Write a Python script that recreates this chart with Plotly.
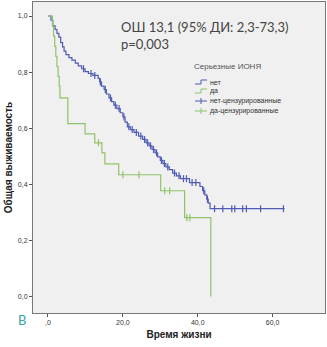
import plotly.graph_objects as go
import numpy as np

# Blue group "нет": step function (time, survival)
no_time = [0, 0.8, 1.3, 1.9, 2.4, 2.9, 3.4, 3.9, 4.3, 4.8,
           5.6, 6.4, 7.3, 8.1, 9.0, 9.9, 10.8, 12.0, 13.4, 13.8,
           14.3, 15.0, 15.6, 16.3, 17.0, 17.6, 18.4, 19.3, 20.0, 20.6,
           21.2, 22.0, 23.0, 24.2, 25.3, 26.2, 27.0, 27.8, 28.6, 29.3,
           30.0, 30.7, 31.5, 32.4, 33.3, 34.3, 35.4, 37.8, 40.6, 41.3,
           41.9, 42.4, 42.8, 43.3, 63.2]
no_surv = [1.0, 0.985, 0.965, 0.952, 0.938, 0.925, 0.905, 0.89, 0.875, 0.862,
           0.852, 0.843, 0.832, 0.822, 0.812, 0.802, 0.795, 0.788, 0.778, 0.765,
           0.750, 0.738, 0.722, 0.708, 0.695, 0.682, 0.670, 0.655, 0.640, 0.622,
           0.605, 0.595, 0.585, 0.572, 0.560, 0.548, 0.537, 0.524, 0.512, 0.498,
           0.485, 0.474, 0.462, 0.452, 0.440, 0.430, 0.420, 0.406, 0.392, 0.377,
           0.362, 0.347, 0.333, 0.313, 0.313]
no_censor = [9.5, 11.5, 12.5, 14.0, 15.3, 16.7, 18.0, 19.0, 20.3, 21.6,
             22.5, 23.6, 24.8, 25.8, 26.6, 27.4, 28.2, 29.0, 30.3, 31.1,
             32.0, 33.8, 35.0, 36.2, 37.0, 38.5, 39.5, 41.6, 42.6, 44.5,
             46.7, 49.1, 49.9, 52.0, 53.0, 56.8, 62.9]

# Green group "да"
yes_time = [0, 1.2, 1.5, 1.8, 2.1, 2.4, 2.7, 3.0, 3.2, 5.3, 9.9, 12.5,
            14.4, 15.2, 18.9, 30.1, 36.5, 43.5]
yes_surv = [1.0, 0.964, 0.928, 0.892, 0.856, 0.82, 0.785, 0.75, 0.708, 0.616,
            0.58, 0.548, 0.512, 0.473, 0.434, 0.377, 0.281, 0.0]
yes_censor = [13.5, 20.0, 24.3, 31.2, 32.5, 37.1, 37.9]

x_ticks = [0, 20, 40, 60]
x_labels = [",0", "20,0", "40,0", "60,0"]
y_ticks = [0, 0.2, 0.4, 0.6, 0.8, 1.0]
y_labels = ["0,0", "0,2", "0,4", "0,6", "0,8", "1,0"]

legend_title = "Серьезные ИОНЯ"
legend_names = ["нет", "да", "нет-цензурированные", "да-цензурированные"]

BLUE = "#4f5bb5"
GREEN = "#8fc36a"

W, H = 327, 347
ML, MR, MT, MB = 33, 2, 2, 34
PW, PH = W - ML - MR, H - MT - MB


def px(x):
    return (x - ML) / PW


def py(y):
    return (H - MB - y) / PH


def step_at(times, surv, t):
    idx = np.searchsorted(np.array(times), t, side="right") - 1
    return [surv[i] for i in idx]


fig = go.Figure()
fig.add_trace(go.Scatter(x=no_time, y=no_surv, mode="lines", line_shape="hv",
                         line=dict(color=BLUE, width=1.2), name=legend_names[0]))
fig.add_trace(go.Scatter(x=yes_time, y=yes_surv, mode="lines", line_shape="hv",
                         line=dict(color=GREEN, width=1.2), name=legend_names[1]))
fig.add_trace(go.Scatter(x=no_censor, y=step_at(no_time, no_surv, no_censor),
                         mode="markers", name=legend_names[2],
                         marker=dict(symbol="line-ns", size=5, line=dict(color=BLUE, width=1.2))))
fig.add_trace(go.Scatter(x=yes_censor, y=step_at(yes_time, yes_surv, yes_censor),
                         mode="markers", name=legend_names[3],
                         marker=dict(symbol="line-ns", size=5, line=dict(color=GREEN, width=1.2))))

axis_common = dict(showgrid=False, zeroline=False, showline=True, linecolor="#777",
                   linewidth=1, mirror=True, ticks="outside", ticklen=3, tickcolor="#555",
                   automargin=False,
                   tickfont=dict(family="Liberation Sans", size=7, color="#333"))

fig.update_layout(
    width=W, height=H,
    margin=dict(l=ML, r=MR, t=MT, b=MB),
    paper_bgcolor="white", plot_bgcolor="#f0f0f0",
    xaxis=dict(range=[-4, 74], tickvals=x_ticks, ticktext=x_labels,
               title=dict(text="<b>Время жизни</b>", standoff=5,
                          font=dict(family="Liberation Sans", size=10, color="#222")),
               **axis_common),
    yaxis=dict(range=[-0.059, 1.05], tickvals=y_ticks, ticktext=y_labels,
               title=dict(text="<b>Общая выживаемость</b>", standoff=3,
                          font=dict(family="Liberation Sans", size=10, color="#222")),
               **axis_common),
    showlegend=False,
)

# Manual SPSS-style legend
fig.add_annotation(text=legend_title, xref="paper", yref="paper",
                   x=px(192), y=py(66), xanchor="left", yanchor="middle", showarrow=False,
                   font=dict(family="Liberation Sans", size=8, color="#555"))
colors = [BLUE, GREEN, BLUE, GREEN]
rows = [82, 91, 101, 111]
for name, col, yy, k in zip(legend_names, colors, rows, range(4)):
    fig.add_annotation(text=name, xref="paper", yref="paper",
                       x=px(208), y=py(yy), xanchor="left", yanchor="middle", showarrow=False,
                       font=dict(family="Liberation Sans", size=7, color="#333"))
    if k < 2:
        path = (f"M {px(195)},{py(yy + 2)} L {px(201)},{py(yy + 2)} L {px(201)},{py(yy - 2)} "
                f"L {px(207)},{py(yy - 2)}")
        fig.add_shape(type="path", path=path, xref="paper", yref="paper",
                      line=dict(color=col, width=1))
    else:
        fig.add_shape(type="line", xref="paper", yref="paper", x0=px(195), x1=px(207),
                      y0=py(yy), y1=py(yy), line=dict(color=col, width=1))
        fig.add_shape(type="line", xref="paper", yref="paper", x0=px(201), x1=px(201),
                      y0=py(yy - 3), y1=py(yy + 3), line=dict(color=col, width=1))

fig.add_annotation(text="ОШ 13,1 (95% ДИ: 2,3-73,3)", xref="paper", yref="paper",
                   x=px(119), y=py(27), xanchor="left", yanchor="middle",
                   showarrow=False, font=dict(family="Lato", size=13, color="#444"))
fig.add_annotation(text="p=0,003", xref="paper", yref="paper",
                   x=px(119), y=py(44), xanchor="left", yanchor="middle",
                   showarrow=False, font=dict(family="Lato", size=13, color="#444"))
fig.add_annotation(text="В", xref="paper", yref="paper",
                   x=px(22), y=py(320), xanchor="center", yanchor="middle",
                   showarrow=False, font=dict(family="Lato", size=13, color="#3aa6a6"))

fig.write_html("out.html", config={"displayModeBar": False},
               post_script="document.body.style.margin='0';")
